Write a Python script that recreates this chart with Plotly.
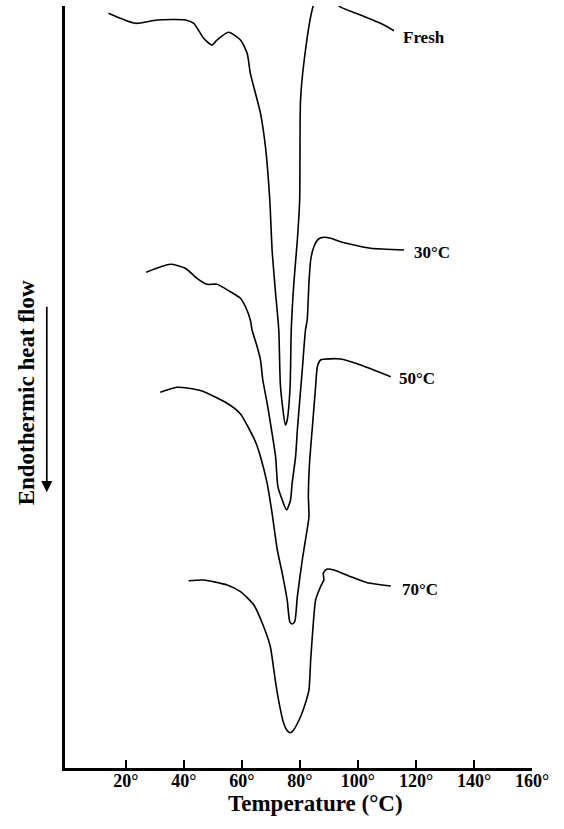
import plotly.graph_objects as go

# DSC thermograms: temperature (deg C) vs. endothermic heat flow (arbitrary units, curves offset)
fresh_t = [14.0, 23.2, 30.7, 40.5, 43.4, 46.8, 49.7, 51.4, 55.4, 59.5, 61.8, 62.9, 66.4, 68.1,
           69.6, 70.4, 71.6, 72.7, 73.3, 75.0, 75.6, 76.6, 77.0, 77.9, 79.1, 79.9, 80.2, 81.6,
           84.2, 86.4, 89.9, 93.4, 100.9, 107.8, 112.4]
fresh_h = [754.7, 744.7, 748.0, 748.0, 744.7, 729.7, 723.0, 728.0, 735.7, 728.0, 714.7, 694.7,
           654.7, 621.3, 568.0, 518.0, 474.7, 438.0, 381.0, 343.0, 348.0, 381.0, 438.0, 485.0,
           528.0, 568.0, 668.0, 711.0, 758.0, 776.0, 778.0, 762.0, 753.0, 744.7, 737.3]

c30_t = [27.0, 35.3, 40.5, 44.5, 48.0, 51.4, 56.0, 59.5, 61.2, 62.9, 63.5, 65.25, 66.4, 67.2,
         68.7, 70.2, 71.6, 72.4, 73.9, 75.4, 76.75, 77.3, 78.5, 79.1, 80.8, 81.9, 82.5, 83.1,
         83.7, 84.8, 86.4, 88.25, 90.6, 94.0, 97.5, 104.4, 115.9]
c30_h = [495.7, 503.7, 499.7, 489.7, 483.7, 483.7, 476.3, 469.7, 461.3, 448.0, 438.0, 421.3,
         408.0, 388.0, 364.7, 338.0, 311.3, 281.3, 268.0, 258.0, 268.0, 284.7, 311.3, 338.0,
         398.0, 438.0, 448.0, 484.7, 508.0, 521.3, 529.0, 530.7, 529.7, 526.3, 523.7, 519.7, 518.0]

c50_t = [31.85, 37.6, 45.7, 54.9, 59.5, 62.3, 64.7, 66.4, 68.7, 70.4, 72.2, 73.9, 75.6, 76.5,
         77.3, 78.2, 79.1, 80.8, 81.9, 83.1, 82.9, 83.3, 84.2, 85.4, 86.0, 87.1, 88.25, 94.0,
         100.9, 111.3]
c50_h = [375.7, 380.7, 377.5, 364.7, 354.0, 340.0, 326.0, 311.3, 284.7, 254.7, 218.0, 194.7,
         168.0, 146.3, 144.0, 146.3, 171.3, 208.0, 228.0, 251.3, 271.3, 304.7, 338.0, 381.3,
         401.3, 408.0, 408.7, 409.0, 403.0, 391.3]

c70_t = [41.6, 46.8, 54.9, 59.5, 64.1, 67.5, 69.8, 71.0, 72.2, 74.4, 75.7, 76.75, 77.8, 80.2,
         81.9, 83.1, 83.7, 84.6, 85.4, 87.1, 88.25, 88.05, 89.2, 91.7, 97.5, 103.2, 111.3]
c70_h = [187.3, 188.0, 183.0, 176.3, 163.0, 141.3, 121.3, 98.0, 74.7, 44.7, 37.0, 35.3, 38.0,
         51.3, 65.0, 78.0, 108.0, 144.7, 168.0, 181.3, 188.0, 194.7, 198.7, 198.0, 191.3,
         185.3, 182.0]

curve_names = ["Fresh", "30°C", "50°C", "70°C"]
label_t = [115.0, 118.8, 113.4, 114.4]
label_h = [731.0, 516.0, 390.0, 179.0]

tick_vals = [20, 40, 60, 80, 100, 120, 140, 160]
tick_text = ["20°", "40°", "60°", "80°", "100°", "120°", "140°", "160°"]

SERIF = "Liberation Serif"

fig = go.Figure()
for name, t, h in zip(curve_names,
                      [fresh_t, c30_t, c50_t, c70_t],
                      [fresh_h, c30_h, c50_h, c70_h]):
    fig.add_trace(go.Scatter(x=t, y=h, mode="lines", name=name,
                             line=dict(color="black", width=1.6, shape="spline", smoothing=0.6),
                             showlegend=False, hoverinfo="skip"))

for name, t, h in zip(curve_names, label_t, label_h):
    fig.add_annotation(x=t, y=h, text=name, showarrow=False, xanchor="left", yanchor="middle",
                       font=dict(family=SERIF, size=17, color="black", weight="bold"))

# axis titles
fig.add_annotation(xref="paper", yref="paper", x=0.537, y=-0.047, text="Temperature (°C)",
                   showarrow=False, xanchor="center", yanchor="middle",
                   font=dict(family=SERIF, size=23, color="black", weight="bold"))
fig.add_annotation(xref="paper", yref="paper", x=-0.083, y=0.492, text="Endothermic heat flow",
                   textangle=-90, showarrow=False, xanchor="center", yanchor="middle",
                   font=dict(family=SERIF, size=23, color="black", weight="bold"))
# downward arrow next to the heat-flow title
fig.add_annotation(xref="paper", yref="paper", x=-0.039, y=0.362, text="",
                   showarrow=True, ax=0, ay=-187, arrowhead=2, arrowsize=1.3,
                   arrowwidth=1.7, arrowcolor="black")

fig.update_xaxes(range=[-1, 160], tickvals=tick_vals, ticktext=tick_text,
                 ticks="inside", ticklen=8, tickwidth=2, tickcolor="black",
                 showline=True, linecolor="black", linewidth=2.5,
                 showgrid=False, zeroline=False, ticklabelstandoff=-5,
                 tickfont=dict(family=SERIF, size=18, color="black", weight="bold"))
fig.update_yaxes(range=[0, 762], showticklabels=False, ticks="",
                 showline=True, linecolor="black", linewidth=2.5,
                 showgrid=False, zeroline=False)

fig.update_layout(width=564, height=829, plot_bgcolor="white", paper_bgcolor="white",
                  margin=dict(l=65, r=32, t=6, b=61))

fig.write_html("out.html")
